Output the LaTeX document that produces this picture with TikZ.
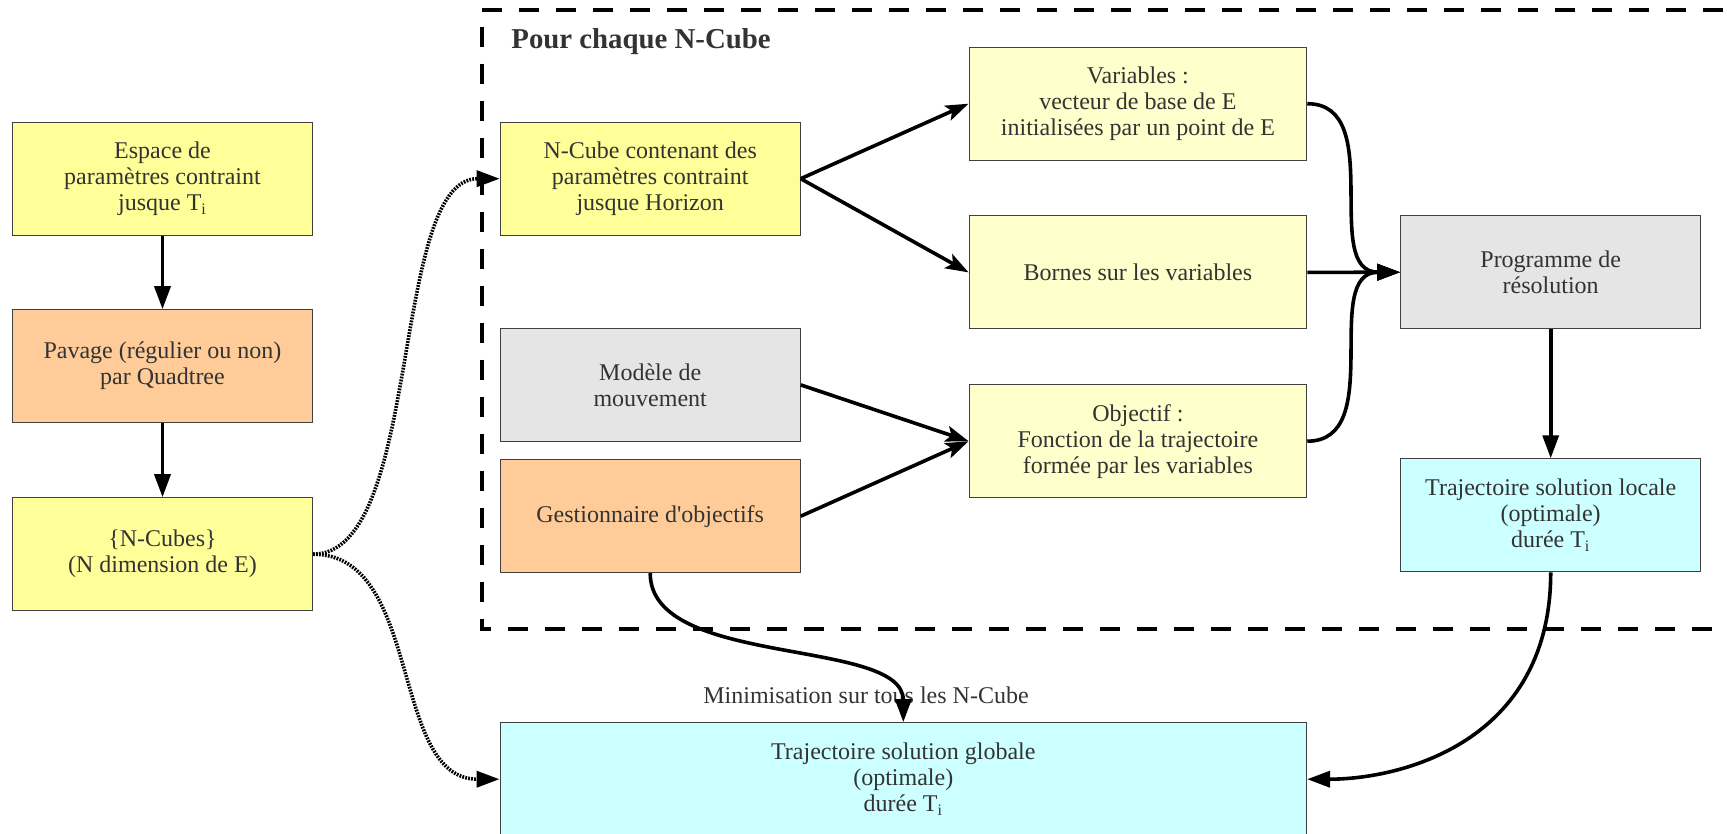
\documentclass[tikz,border=0pt]{standalone}
\usepackage{fontspec}
\setmainfont{Liberation Serif}
\usetikzlibrary{arrows.meta}
\definecolor{cyel}{HTML}{FFFF99}
\definecolor{corg}{HTML}{FFCC99}
\definecolor{clyel}{HTML}{FFFFCC}
\definecolor{cgry}{HTML}{E5E5E5}
\definecolor{ccya}{HTML}{CCFFFF}
\definecolor{ctxt}{HTML}{333333}
\definecolor{cbrd}{HTML}{404040}
\tikzset{
  box/.style={draw=cbrd, line width=0.5pt, rectangle, inner sep=0pt, align=center,
    minimum width=150pt, minimum height=56.5pt, text=ctxt,
    font=\fontsize{12}{13}\selectfont},
  widebox/.style={box, minimum width=168.85pt},
  conn/.style={line width=1.8pt, -{Triangle[length=11.5pt,width=8pt]}},
  sconn/.style={line width=1.8pt, -{Stealth[length=11.5pt,width=8pt,inset=2.5pt]}},
  dconn/.style={line width=1.8pt, dash pattern=on 0.9pt off 0.6pt, -{Triangle[length=11.5pt,width=8pt]}},
  frame/.style={line width=2pt, dash pattern=on 10pt off 8.5pt}
}
\begin{document}
\begin{tikzpicture}[x=0.5pt,y=-0.5pt]
\useasboundingbox (0,0) rectangle (1727,834);
\clip (0,0) rectangle (1727,834);
\fill[white] (0,0) rectangle (1727,834);

% dashed frame
\draw[frame] (1760,10) -- (481.7,10) -- (481.7,629) -- (1760,629);
\node[anchor=west, text=ctxt, font=\fontsize{14.4}{16}\selectfont\bfseries, inner sep=0pt] (title) at (511,41.7) {Pour chaque N-Cube};

% left column
\node[box, fill=cyel] (esp) at (162.5,178.7) {Espace de\\paramètres contraint\\jusque T\textsubscript{i}};
\node[box, fill=corg] (pav) at (162.5,366.2) {Pavage (régulier ou non)\\par Quadtree};
\node[box, fill=cyel] (ncs) at (162.5,554.2) {\{N-Cubes\}\\(N dimension de E)};

% middle column
\node[box, fill=cyel] (ncube) at (650.2,178.7) {N-Cube contenant des\\paramètres contraint\\jusque Horizon};
\node[box, fill=cgry] (mod) at (650.2,384.9) {Modèle de\\mouvement};
\node[box, fill=corg] (gest) at (650.2,516.2) {Gestionnaire d\textquotesingle objectifs};

% variables column
\node[widebox, fill=clyel] (var) at (1137.9,103.7) {Variables :\\vecteur de base de E\\initialisées par un point de E};
\node[widebox, fill=clyel] (bor) at (1137.9,272.4) {Bornes sur les variables};
\node[widebox, fill=clyel] (obj) at (1137.9,441.2) {Objectif :\\Fonction de la trajectoire\\formée par les variables};

% right column
\node[box, fill=cgry] (prog) at (1550.7,272.2) {Programme de\\résolution};
\node[box, fill=ccya] (loc) at (1550.7,515.3) {Trajectoire solution locale\\(optimale)\\durée T\textsubscript{i}};

% global
\node[box, fill=ccya, minimum width=403.25pt] (glob) at (903.3,779.2) {Trajectoire solution globale\\(optimale)\\durée T\textsubscript{i}};

\node[text=ctxt, font=\fontsize{12}{13}\selectfont, inner sep=0pt] (minlab) at (866,695) {Minimisation sur tous les N-Cube};

% connectors
\draw[conn] (esp.south) -- (pav.north);
\draw[conn] (pav.south) -- (ncs.north);
\draw[sconn] (ncube.east) -- (var.west);
\draw[sconn] (ncube.east) -- (bor.west);
\draw[sconn] (mod.east) -- (obj.west);
\draw[sconn] (gest.east) -- (obj.west);
\draw[conn] (var.east) .. controls +(80,0) and +(-80,0) .. (prog.west);
\draw[conn] (bor.east) -- (prog.west);
\draw[conn] (obj.east) .. controls +(80,0) and +(-80,0) .. (prog.west);
\draw[conn] (prog.south) -- (loc.north);
\draw[conn] (loc.south) .. controls +(0,170) and +(94,0) .. (glob.east);
\draw[conn] (gest.south) .. controls +(0,95) and +(0,-85) .. (glob.north);
\draw[dconn] (ncs.east) .. controls +(110,0) and +(-110,0) .. (ncube.west);
\draw[dconn] (ncs.east) .. controls +(110,0) and +(-110,0) .. (glob.west);
\end{tikzpicture}
\end{document}
